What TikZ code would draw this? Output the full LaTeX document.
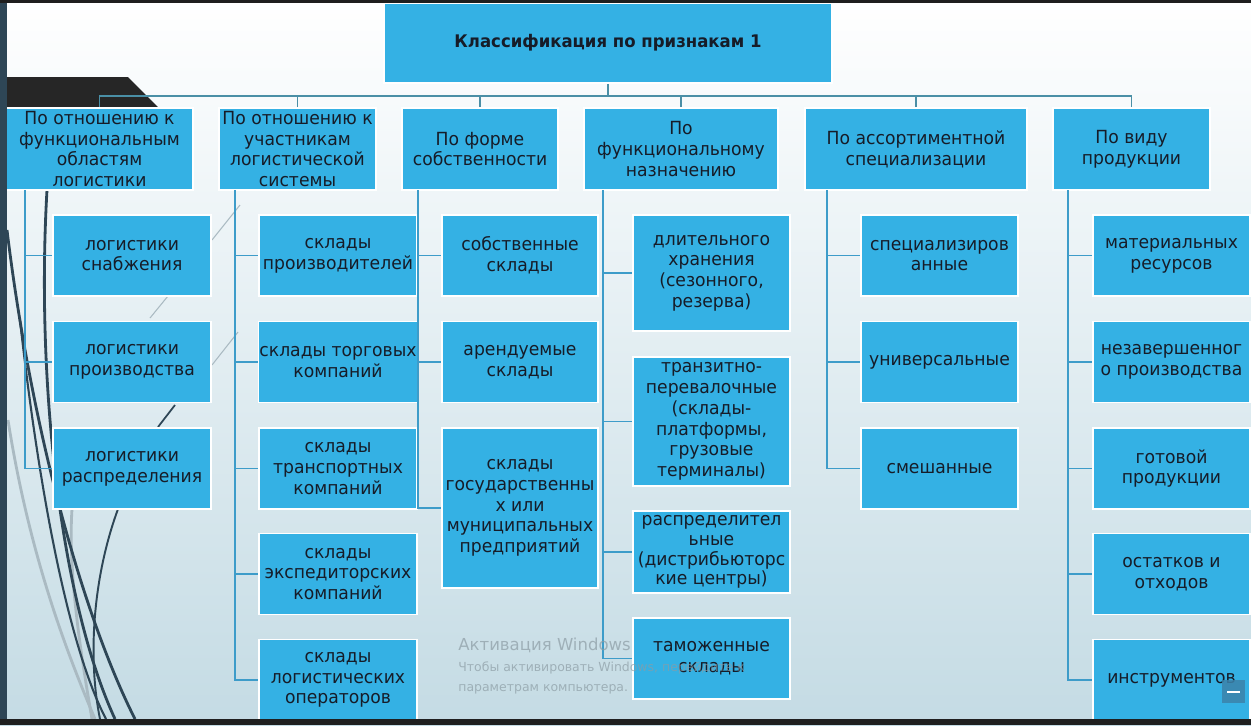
\documentclass[tikz,border=0pt]{standalone}
\usepackage{fontspec}
\setmainfont{DejaVu Sans}[FakeStretch=0.95]
\newfontfamily\wmfont{DejaVu Sans}
\definecolor{boxblue}{RGB}{52,177,228}
\definecolor{txt}{RGB}{22,28,40}
\definecolor{lineblue}{RGB}{61,156,201}
\definecolor{busline}{RGB}{74,143,166}
\definecolor{slate}{RGB}{46,70,86}
\definecolor{bgbot}{RGB}{196,219,228}
\definecolor{bgmid}{RGB}{226,237,242}
\definecolor{wisp}{RGB}{170,186,194}
\definecolor{wm}{RGB}{140,156,164}
\definecolor{sqblue}{RGB}{60,130,170}
\begin{document}
\begin{tikzpicture}[x=0.02cm,y=-0.02cm,
  box/.style={draw=white, line width=0.9pt, fill=boxblue, text=txt, align=center, inner sep=0.5pt,
    font=\fontsize{10.3}{11.8}\selectfont},
  cat/.style={box, minimum height=1.64cm},
  leaf/.style={box, minimum height=1.62cm, minimum width=3.14cm},
  conn/.style={draw=lineblue, line width=1.1pt},
  busconn/.style={draw=busline, line width=1.1pt},
  darkwisp/.style={draw=slate, line width=1.6pt},
  lightwisp/.style={draw=wisp, line width=1.6pt}]
% background
\useasboundingbox (0,0) rectangle (1251,725);
\shade[top color=white, middle color=bgmid, bottom color=bgbot] (0,0) rectangle (1251,725);
% decorative wisps
\draw[lightwisp] (8,420) .. controls (30,560) and (70,660) .. (95,719);
\draw[lightwisp] (72,509) .. controls (68,570) and (80,650) .. (92,719);
\draw[darkwisp] (7,230) .. controls (30,420) and (80,610) .. (135,719);
\draw[darkwisp] (47,190) .. controls (36,380) and (60,600) .. (115,719);
\draw[darkwisp, line width=1.2pt] (20,320) .. controls (40,500) and (70,650) .. (106,719);
\draw[darkwisp, line width=1.1pt] (118,509) .. controls (92,580) and (88,660) .. (100,719);
\draw[darkwisp, line width=1pt] (158,427) -- (175,405);
\draw[wisp, line width=0.6pt] (212,365) -- (238,332);
\draw[wisp, line width=0.6pt] (150,318) -- (168,296);
\draw[wisp, line width=0.6pt] (212,240) -- (240,205);
% top-left dark tab
\fill[black!85] (0,77) -- (128,77) -- (158,107) -- (0,107) -- cycle;
% nodes
\node[box, minimum width=8.96cm, minimum height=1.6cm, font=\bfseries\fontsize{9.9}{11}\selectfont] (top) at (608,43) {Классификация по признакам 1};
\node[cat, minimum width=3.74cm] (c1) at (99.5,149) {По отношению к\\функциональным\\областям\\логистики};
\node[cat, minimum width=3.14cm] (c2) at (297.5,149) {По отношению к\\участникам\\логистической\\системы};
\node[cat, minimum width=3.12cm] (c3) at (480,149) {По форме\\собственности};
\node[cat, minimum width=3.88cm] (c4) at (681,149) {По\\функциональному\\назначению};
\node[cat, minimum width=4.44cm] (c5) at (916,149) {По ассортиментной\\специализации};
\node[cat, minimum width=3.14cm] (c6) at (1131.5,149) {По виду\\продукции};
% column 1
\node[leaf, minimum width=3.16cm] (l11) at (132,255.5) {логистики\\снабжения};
\node[leaf, minimum width=3.16cm] (l12) at (132,362) {логистики\\производства};
\node[leaf, minimum width=3.16cm] (l13) at (132,468.5) {логистики\\распределения};
% column 2
\node[leaf, minimum width=3.16cm] (l21) at (338,255.5) {склады\\производителей};
\node[leaf, minimum width=3.16cm] (l22) at (338,362) {склады торговых\\компаний};
\node[leaf, minimum width=3.16cm] (l23) at (338,468.5) {склады\\транспортных\\компаний};
\node[leaf, minimum width=3.16cm] (l24) at (338,574) {склады\\экспедиторских\\компаний};
\node[leaf, minimum width=3.16cm] (l25) at (338,680) {склады\\логистических\\операторов};
% column 3
\node[leaf, minimum width=3.12cm] (l31) at (520,255.5) {собственные\\склады};
\node[leaf, minimum width=3.12cm] (l32) at (520,362) {арендуемые\\склады};
\node[leaf, minimum width=3.12cm, minimum height=3.2cm] (l33) at (520,508) {склады\\государственны\\х или\\муниципальных\\предприятий};
% column 4
\node[leaf, minimum height=2.32cm] (l41) at (711.5,273) {длительного\\хранения\\(сезонного,\\резерва)};
\node[leaf, minimum height=2.58cm] (l42) at (711.5,421.5) {транзитно-\\перевалочные\\(склады-\\платформы,\\грузовые\\терминалы)};
\node[leaf, minimum height=1.64cm, font=\fontsize{10.3}{11.2}\selectfont] (l43) at (711.5,552) {распределител\\ьные\\(дистрибьюторс\\кие центры)};
\node[leaf] (l44) at (711.5,658.5) {таможенные\\склады};
% column 5
\node[leaf] (l51) at (939.5,255.5) {специализиров\\анные};
\node[leaf] (l52) at (939.5,362) {универсальные};
\node[leaf] (l53) at (939.5,468.5) {смешанные};
% column 6
\node[leaf] (l61) at (1171.5,255.5) {материальных\\ресурсов};
\node[leaf] (l62) at (1171.5,362) {незавершенног\\о производства};
\node[leaf] (l63) at (1171.5,468.5) {готовой\\продукции};
\node[leaf] (l64) at (1171.5,574) {остатков и\\отходов};
\node[leaf] (l65) at (1171.5,680) {инструментов};
% bus connectors
\coordinate (bus) at (608,96);
\draw[busconn] (top.south) -- (bus);
\draw[busconn] (c1.north) |- (bus) -| (c6.north);
\foreach \c in {c2,c3,c4,c5} \draw[busconn] (\c.north) -- (\c.north |- bus);
% trunks
\coordinate (t1) at (25,190);
\coordinate (t2) at (235,190);
\coordinate (t3) at (418,190);
\coordinate (t4) at (603,190);
\coordinate (t5) at (827,190);
\coordinate (t6) at (1068,190);
\foreach \n in {l11,l12,l13} \draw[conn] (t1) |- (\n.west);
\foreach \n in {l21,l22,l23,l24,l25} \draw[conn] (t2) |- (\n.west);
\foreach \n in {l31,l32,l33} \draw[conn] (t3) |- (\n.west);
\foreach \n in {l41,l42,l43,l44} \draw[conn] (t4) |- (\n.west);
\foreach \n in {l51,l52,l53} \draw[conn] (t5) |- (\n.west);
\foreach \n in {l61,l62,l63,l64,l65} \draw[conn] (t6) |- (\n.west);
% frame strips
\fill[slate] (0,0) rectangle (7,725);
\fill[black!88] (0,0) rectangle (1251,3);
\fill[black!88] (0,719) rectangle (1251,725);
% small overlay square
\fill[sqblue, opacity=0.85] (1222,680) rectangle (1245,703);
\draw[white, line width=1.2pt] (1227,692) -- (1240,692);
% watermark
\begin{scope}[opacity=0.7, text=wm]
\node[anchor=west, inner sep=0, font=\wmfont\fontsize{9.4}{10}\selectfont] (wm1) at (458,645) {Активация Windows};
\node[anchor=west, inner sep=0, font=\wmfont\fontsize{7.1}{8}\selectfont] (wm2) at (458,668) {Чтобы активировать Windows, перейдите к};
\node[anchor=west, inner sep=0, font=\wmfont\fontsize{7.1}{8}\selectfont] (wm3) at (458,689) {параметрам компьютера.};
\end{scope}
\end{tikzpicture}
\end{document}
